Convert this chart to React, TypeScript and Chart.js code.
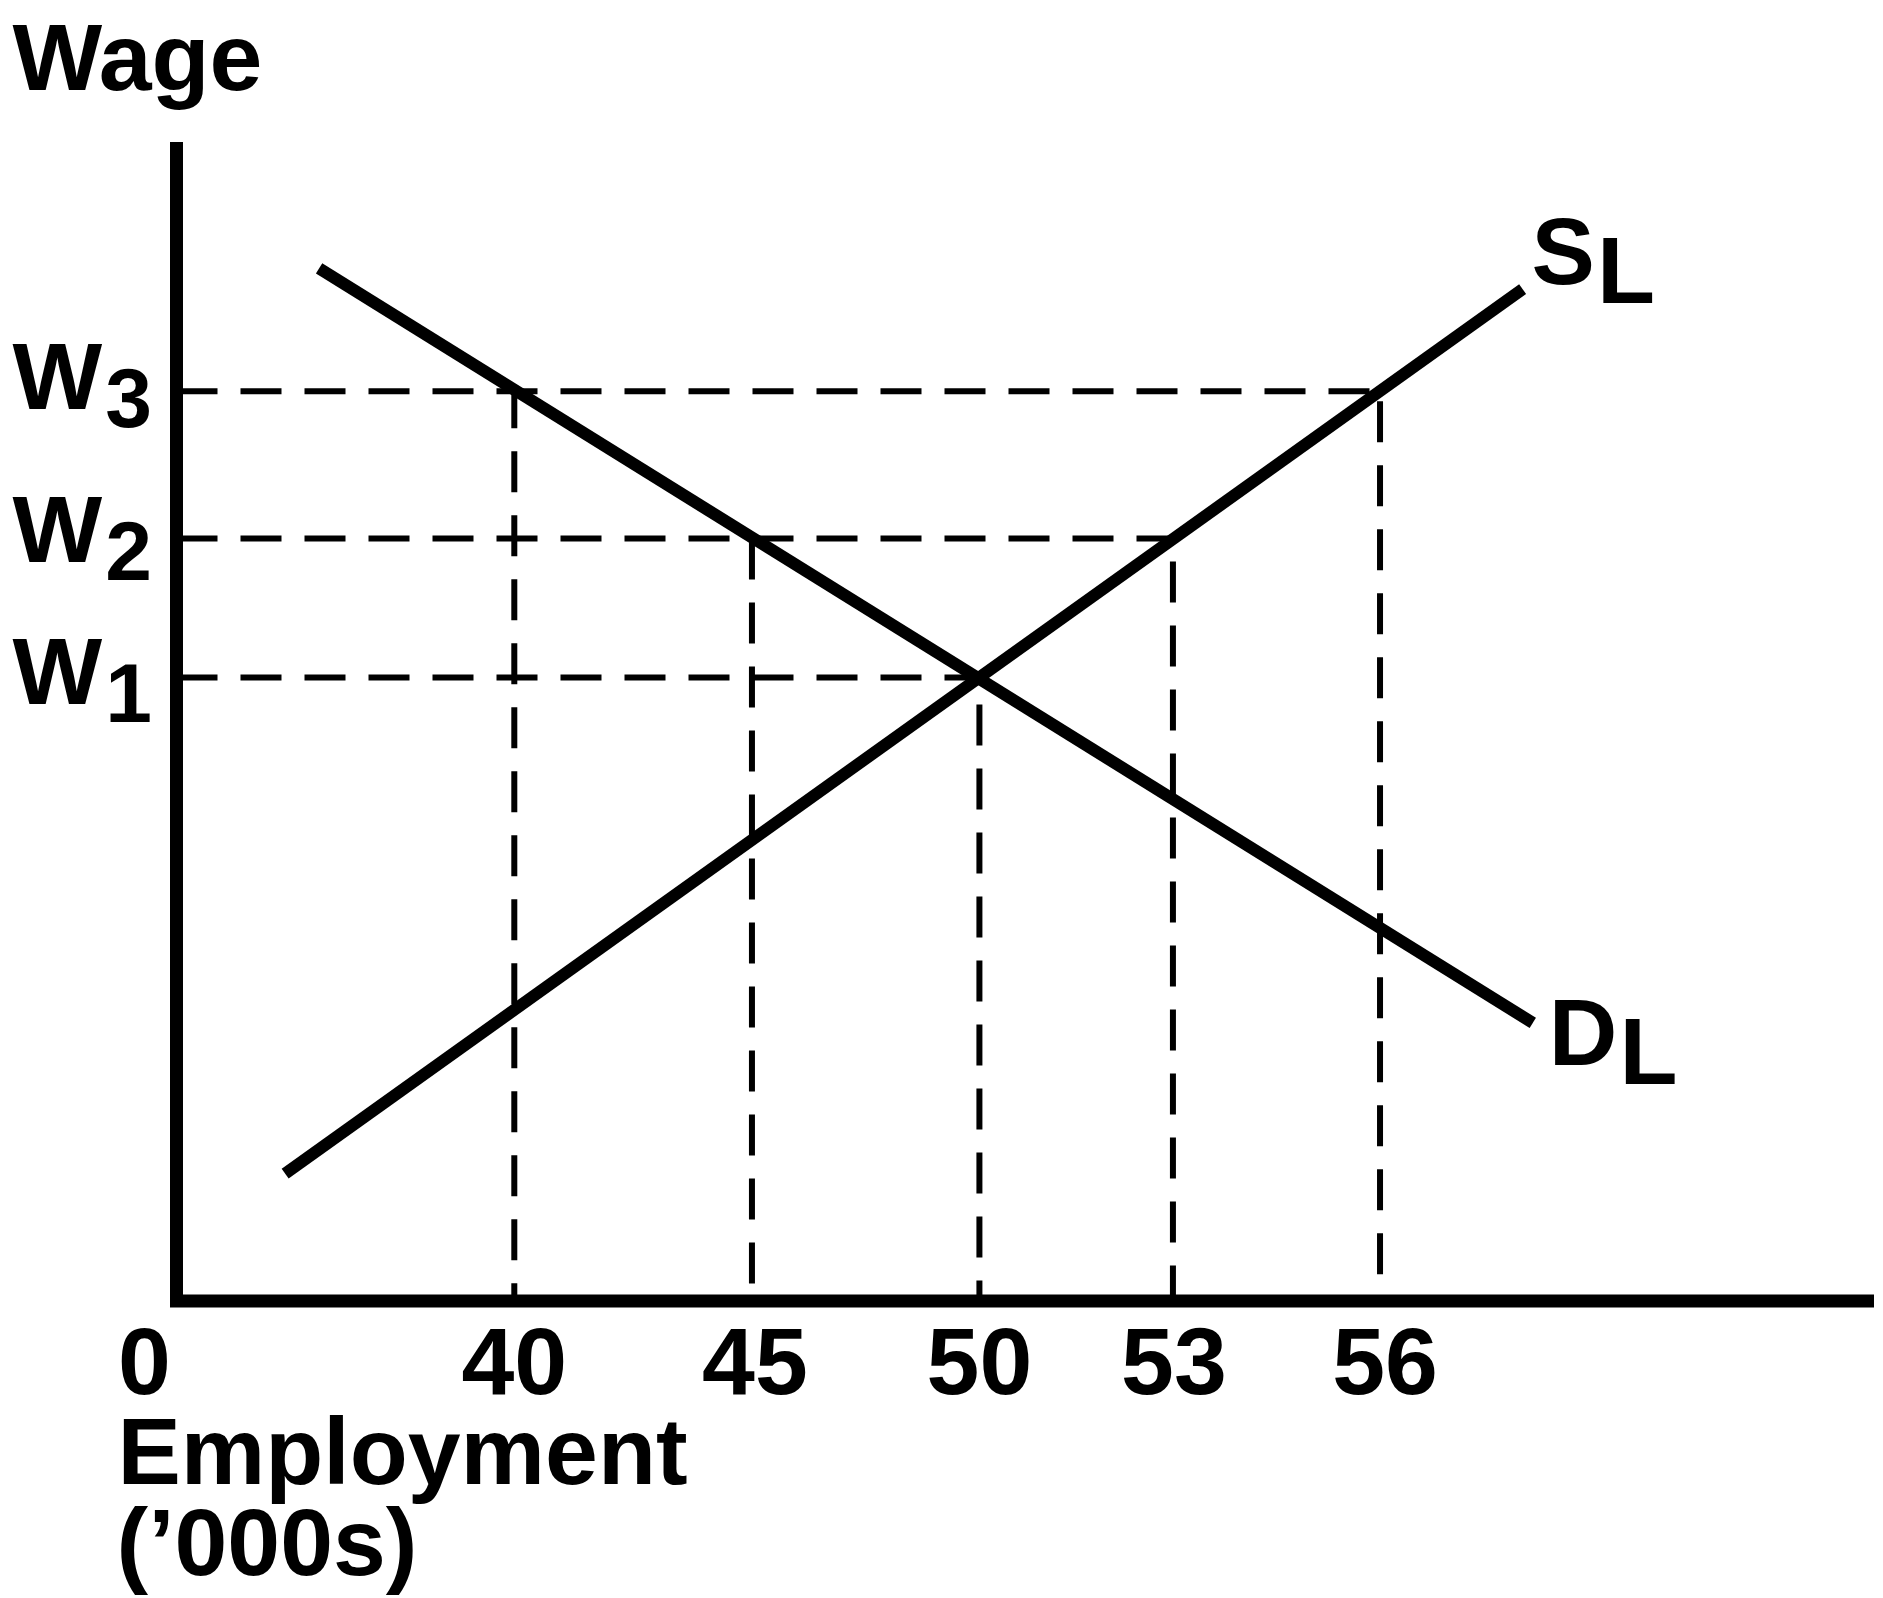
import React, { useEffect, useRef } from 'react';
import { Chart, registerables } from 'chart.js';

Chart.register(...registerables);

// ---- Data (schematic diagram: both axes use 0-100 diagram units) ----
const employmentLabels = ['40', '45', '50', '53', '56'];
const employmentPos = [19.9, 33.9, 47.3, 58.7, 70.9];
const wageSubscripts = ['1', '2', '3'];
const wagePos = [53.8, 65.8, 78.5];
// index into wagePos that each employment level's dashed guide rises to
const employmentWageIdx = [2, 1, 0, 1, 2];
const supplyX = [6.4, 79.3];
const supplyY = [11.0, 87.3];
const demandX = [8.4, 79.9];
const demandY = [89.1, 24.0];
const supplyLabel = ['S', 'L'];
const demandLabel = ['D', 'L'];
const originLabel = '0';
const xTitle = ['Employment', '(\u2019000s)'];
const yTitle = 'Wage';

// ---- Style ----
const FONT = '"Liberation Sans", Arial, Helvetica, sans-serif';
const W = 1883;
const H = 1598;
const DASH = [41, 23];
const verticalDashOffsets = [4, 0, 37, 41, 54];

const textPlugin = {
  id: 'diagramText',
  afterDraw(chart: any) {
    const ctx = chart.ctx as CanvasRenderingContext2D;
    const xs = chart.scales.x;
    const ys = chart.scales.y;
    const x0 = xs.getPixelForValue(0);
    const y0 = ys.getPixelForValue(0);
    const yTop = ys.getPixelForValue(100);
    ctx.save();
    ctx.fillStyle = '#000';
    ctx.textBaseline = 'alphabetic';
    ctx.textAlign = 'left';
    ctx.font = `bold 95px ${FONT}`;
    // y title
    ctx.fillText(yTitle, x0 - 164, yTop - 52);
    // wage labels W1..W3
    const wDy = [27, 24, 18];
    wagePos.forEach((v, i) => {
      const py = ys.getPixelForValue(v) + wDy[i];
      ctx.font = `bold 95px ${FONT}`;
      ctx.textAlign = 'left';
      ctx.fillText('W', x0 - 164, py);
      const wW = ctx.measureText('W').width;
      ctx.font = `bold 84px ${FONT}`;
      ctx.fillText(wageSubscripts[i], x0 - 164 + wW + 3, py + 18);
    });
    // x tick labels
    ctx.font = `bold 95px ${FONT}`;
    ctx.textAlign = 'center';
    const tickY = y0 + 93;
    ctx.fillText(originLabel, x0 - 32, tickY);
    const dxs = [0, 3, 0, 1, 5];
    employmentLabels.forEach((lab, i) => {
      ctx.fillText(lab, xs.getPixelForValue(employmentPos[i]) + dxs[i], tickY);
    });
    // x title
    ctx.textAlign = 'left';
    ctx.fillText(xTitle[0], x0 - 59, y0 + 183);
    ctx.fillText(xTitle[1], x0 - 60, y0 + 274);
    // curve labels
    const drawSub = (parts: string[], px: number, py: number) => {
      ctx.font = `bold 95px ${FONT}`;
      ctx.textAlign = 'left';
      ctx.fillText(parts[0], px, py);
      const w = ctx.measureText(parts[0]).width;
      ctx.fillText(parts[1], px + w + 2, py + 19);
    };
    drawSub(
      supplyLabel,
      xs.getPixelForValue(supplyX[1]) + 9,
      ys.getPixelForValue(supplyY[1]) - 5
    );
    drawSub(
      demandLabel,
      xs.getPixelForValue(demandX[1]) + 16,
      ys.getPixelForValue(demandY[1]) + 42
    );
    ctx.restore();
  },
};

export default function App() {
  const ref = useRef<HTMLCanvasElement | null>(null);

  useEffect(() => {
    if (!ref.current) return;
    const black = '#000000';
    const datasets: any[] = [];

    // axes (L shape)
    datasets.push({
      data: [
        { x: 0, y: 100 },
        { x: 0, y: 0 },
        { x: 100, y: 0 },
      ],
      borderColor: black,
      borderWidth: 13,
      borderJoinStyle: 'miter',
      borderCapStyle: 'butt',
      order: 0,
    });
    // supply & demand
    datasets.push({
      data: supplyX.map((x, i) => ({ x, y: supplyY[i] })),
      borderColor: black,
      borderWidth: 12,
      borderCapStyle: 'butt',
      order: 1,
    });
    datasets.push({
      data: demandX.map((x, i) => ({ x, y: demandY[i] })),
      borderColor: black,
      borderWidth: 12,
      borderCapStyle: 'butt',
      order: 1,
    });
    // horizontal dashed guides
    wagePos.forEach((w, wi) => {
      const reach = Math.max(
        ...employmentPos.filter((_, ei) => employmentWageIdx[ei] === wi)
      );
      datasets.push({
        data: [
          { x: 0, y: w },
          { x: reach, y: w },
        ],
        borderColor: black,
        borderWidth: 6,
        borderDash: DASH,
        borderCapStyle: 'butt',
        order: 2,
      });
    });
    // vertical dashed guides
    employmentPos.forEach((e, ei) => {
      datasets.push({
        data: [
          { x: e, y: wagePos[employmentWageIdx[ei]] },
          { x: e, y: 0 },
        ],
        borderColor: black,
        borderWidth: 6,
        borderDash: DASH,
        borderDashOffset: verticalDashOffsets[ei],
        borderCapStyle: 'butt',
        order: 2,
      });
    });

    datasets.forEach((d) => {
      d.showLine = true;
      d.pointRadius = 0;
      d.pointHoverRadius = 0;
      d.clip = false;
      d.fill = false;
      d.tension = 0;
    });

    const chart = new Chart(ref.current, {
      type: 'scatter',
      data: { datasets },
      options: {
        animation: false,
        responsive: false,
        devicePixelRatio: 1,
        events: [],
        layout: { padding: { left: 176.5, right: 9, top: 142, bottom: 297 } },
        scales: {
          x: { type: 'linear', min: 0, max: 100, display: false },
          y: { type: 'linear', min: 0, max: 100, display: false },
        },
        plugins: {
          legend: { display: false },
          tooltip: { enabled: false },
        },
      },
      plugins: [textPlugin],
    });
    return () => chart.destroy();
  }, []);

  return (
    <div
      style={{
        position: 'absolute',
        left: 0,
        top: 0,
        width: W,
        height: H,
        background: '#fff',
        overflow: 'hidden',
      }}
    >
      <canvas ref={ref} width={W} height={H} style={{ display: 'block', width: W, height: H }} />
    </div>
  );
}
